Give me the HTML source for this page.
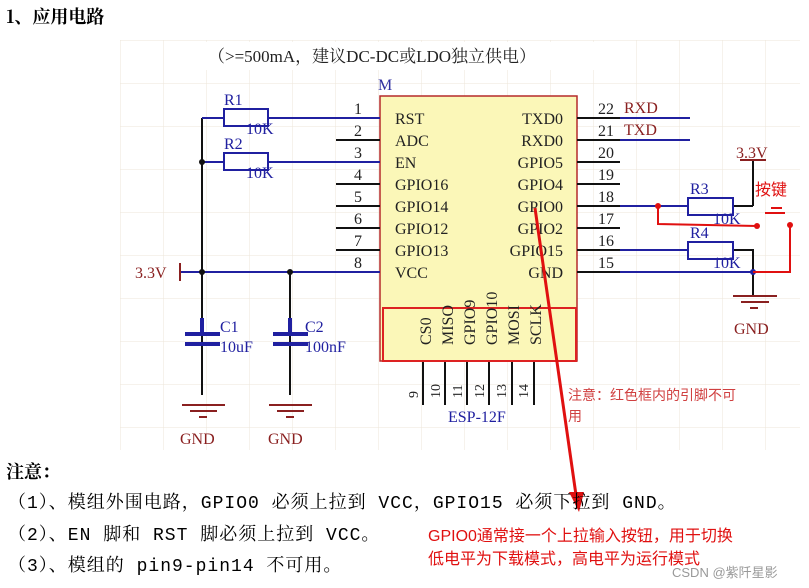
<!DOCTYPE html>
<html><head><meta charset="utf-8"><style>
body{margin:0;width:809px;height:588px;background:#fff;overflow:hidden;position:relative;font-family:"Liberation Serif","Noto Serif CJK SC",serif}
.t{position:absolute;white-space:nowrap}
</style></head><body>
<svg width="809" height="588" style="position:absolute;left:0;top:0" font-family="Liberation Serif, Noto Serif CJK SC, serif">
<defs><pattern id="g" width="43" height="43" patternUnits="userSpaceOnUse" x="120" y="40"><path d="M0 0H43M0 0V43" stroke="#ece6da" stroke-width="1" fill="none"/></pattern></defs>
<rect x="120" y="40" width="680" height="410" fill="url(#g)"/>
<rect x="200" y="42" width="410" height="28" fill="#fff"/>
<text x="208" y="62" font-size="17" fill="#222">（&gt;=500mA，建议DC-DC或LDO独立供电）</text>
<text x="378" y="90" font-size="16" fill="#3030a0">M</text>
<rect x="380" y="96" width="197" height="265" fill="#fbf7b8" stroke="#b52a2a" stroke-width="1.5"/>
<rect x="383" y="308" width="193" height="53" fill="none" stroke="#d22" stroke-width="2"/>
<g font-size="16" fill="#222">
<text x="395" y="124">RST</text><text x="395" y="146">ADC</text><text x="395" y="168">EN</text><text x="395" y="190">GPIO16</text><text x="395" y="212">GPIO14</text><text x="395" y="234">GPIO12</text><text x="395" y="256">GPIO13</text><text x="395" y="278">VCC</text>
<g text-anchor="end"><text x="563" y="124">TXD0</text><text x="563" y="146">RXD0</text><text x="563" y="168">GPIO5</text><text x="563" y="190">GPIO4</text><text x="563" y="212">GPIO0</text><text x="563" y="234">GPIO2</text><text x="563" y="256">GPIO15</text><text x="563" y="278">GND</text></g>
<g text-anchor="middle"><text x="358" y="114">1</text><text x="358" y="136">2</text><text x="358" y="158">3</text><text x="358" y="180">4</text><text x="358" y="202">5</text><text x="358" y="224">6</text><text x="358" y="246">7</text><text x="358" y="268">8</text>
<text x="606" y="114">22</text><text x="606" y="136">21</text><text x="606" y="158">20</text><text x="606" y="180">19</text><text x="606" y="202">18</text><text x="606" y="224">17</text><text x="606" y="246">16</text><text x="606" y="268">15</text></g>
<g><text transform="translate(431,345) rotate(-90)">CS0</text><text transform="translate(453,345) rotate(-90)">MISO</text><text transform="translate(475,345) rotate(-90)">GPIO9</text><text transform="translate(497,345) rotate(-90)">GPIO10</text><text transform="translate(519,345) rotate(-90)">MOSI</text><text transform="translate(541,345) rotate(-90)">SCLK</text>
<text transform="translate(418,398) rotate(-90)" font-size="14">9</text><text transform="translate(440,398) rotate(-90)" font-size="14">10</text><text transform="translate(462,398) rotate(-90)" font-size="14">11</text><text transform="translate(484,398) rotate(-90)" font-size="14">12</text><text transform="translate(506,398) rotate(-90)" font-size="14">13</text><text transform="translate(528,398) rotate(-90)" font-size="14">14</text></g>
</g>
<g stroke="#111" stroke-width="2" fill="none">
<path d="M336 140H380M336 184H380M336 206H380M336 228H380M336 250H380M577 118H620M577 140H620M577 162H620M577 184H620M577 206H620M577 228H620M577 250H620M577 272H620"/>
<path d="M423 362V405M445 362V405M467 362V405M489 362V405M512 362V405M534 362V405"/>
<path d="M202 118V395M290 272V395M753 160V206M733 206H753M733 250H753V296"/>
</g>
<g stroke="#2020a0" stroke-width="2" fill="none">
<path d="M202 118H224M268 118H380M202 162H224M268 162H380M180 272H380M620 118H690M620 140H690M620 206H688M620 250H688M620 272H753"/>
<rect x="224" y="109" width="44" height="17"/><rect x="224" y="153" width="44" height="17"/>
<rect x="688" y="198" width="45" height="17"/><rect x="688" y="242" width="45" height="17"/>
<path d="M202 318V332M290 318V332M185 334H220M185 344H220M273 334H308M273 344H308" stroke-width="4"/>
</g>
<path d="M180 263V281" stroke="#8a2020" stroke-width="2"/>
<g fill="#111"><circle cx="202" cy="162" r="3"/><circle cx="202" cy="272" r="3"/><circle cx="290" cy="272" r="3"/><circle cx="753" cy="272" r="3" fill="#2020a0"/></g>
<g stroke="#8a2020" stroke-width="2">
<path d="M182 405H225M190 411H217M199 417H207M269 405H312M277 411H304M286 417H294M733 296H777M741 302H769M750 308H758M740 160H766"/>
</g>
<g fill="#8a2020" font-size="16"><text x="135" y="278">3.3V</text><text x="180" y="444">GND</text><text x="268" y="444">GND</text><text x="734" y="334">GND</text><text x="736" y="158">3.3V</text><text x="624" y="113">RXD</text><text x="624" y="135">TXD</text></g>
<g fill="#2020a0" font-size="16"><text x="224" y="105">R1</text><text x="246" y="134">10K</text><text x="224" y="149">R2</text><text x="246" y="178">10K</text><text x="690" y="194">R3</text><text x="713" y="224">10K</text><text x="690" y="238">R4</text><text x="713" y="268">10K</text><text x="448" y="422">ESP-12F</text><text x="305" y="332">C2</text><text x="305" y="352">100nF</text><text x="220" y="332">C1</text><text x="220" y="352">10uF</text></g>
<g stroke="#e01010" stroke-width="2" fill="none"><path d="M658 206V224L757 226M790 225V272H753M765 213H785M771 208H782"/></g>
<g fill="#e01010"><circle cx="658" cy="206" r="3"/><circle cx="757" cy="226" r="3"/><circle cx="790" cy="225" r="3"/></g>
<text x="755" y="195" font-size="16" fill="#e01010" font-family="Noto Sans CJK SC,sans-serif">按键</text>
<text x="568" y="400" font-size="14" fill="#d04040" font-family="Noto Sans CJK SC,sans-serif">注意：红色框内的引脚不可</text>
<text x="568" y="421" font-size="14" fill="#d04040" font-family="Noto Sans CJK SC,sans-serif">用</text>
<path d="M535 208L576 495" stroke="#e01010" stroke-width="3"/>
<path d="M569 492L584 492L579 512Z" fill="#e01010"/>
</svg>
<div class="t" style="left:6px;top:3px;font-size:18px;font-weight:bold;font-family:'Noto Serif CJK SC',serif">1、应用电路</div>
<div class="t" style="left:6px;top:458px;font-size:18px;font-weight:bold;font-family:'Noto Serif CJK SC',serif">注意：</div>
<div class="t" style="left:8px;top:488px;font-size:18px;letter-spacing:1px;font-family:'Liberation Mono','Noto Serif CJK SC',serif">（1）、模组外围电路，GPIO0 必须上拉到 VCC，GPIO15 必须下拉到 GND。</div>
<div class="t" style="left:8px;top:520px;font-size:18px;letter-spacing:1px;font-family:'Liberation Mono','Noto Serif CJK SC',serif">（2）、EN 脚和 RST 脚必须上拉到 VCC。</div>
<div class="t" style="left:8px;top:551px;font-size:18px;letter-spacing:1px;font-family:'Liberation Mono','Noto Serif CJK SC',serif">（3）、模组的 pin9-pin14 不可用。</div>
<div class="t" style="left:428px;top:522px;font-size:16px;color:#e01010;font-family:'Liberation Sans','Noto Sans CJK SC',sans-serif">GPIO0通常接一个上拉输入按钮，用于切换</div>
<div class="t" style="left:428px;top:545px;font-size:16px;color:#e01010;font-family:'Liberation Sans','Noto Sans CJK SC',sans-serif">低电平为下载模式，高电平为运行模式</div>
<div class="t" style="left:672px;top:562px;font-size:13px;color:#999;font-family:'Liberation Sans','Noto Sans CJK SC',sans-serif">CSDN @紫阡星影</div>
</body></html>
